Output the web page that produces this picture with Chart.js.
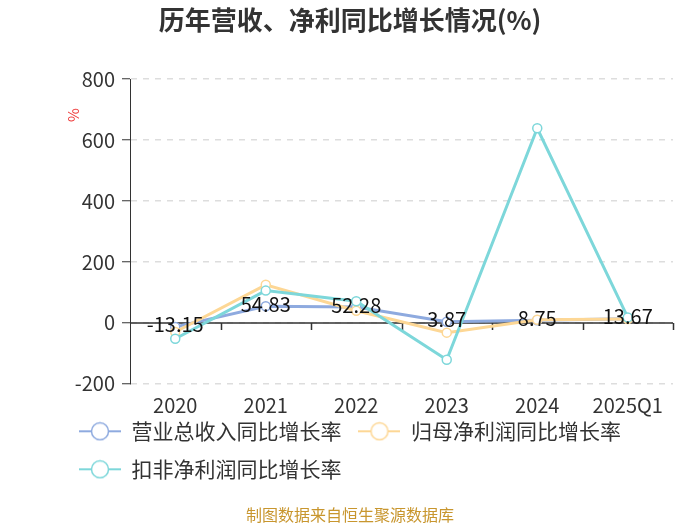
<!DOCTYPE html>
<html><head><meta charset="utf-8">
<script src="https://cdn.jsdelivr.net/npm/chart.js@4"></script>
<style>html,body{margin:0;padding:0;background:#fff}</style>
</head><body>
<canvas id="c" width="700" height="525" style="width:700px;height:525px;display:block"></canvas>
<script>
const categories = ['2020', '2021', '2022', '2023', '2024', '2025Q1'];
const revenueGrowth = [-13.15, 54.83, 52.28, 3.87, 8.75, 13.67];
const netProfitGrowth = [-30, 125, 40, -32, 10, 13];
const deductedProfitGrowth = [-52, 106, 71, -121, 639, 18];
const yTickValues = [800, 600, 400, 200, 0, -200];
const seriesNames = ['营业总收入同比增长率', '归母净利润同比增长率', '扣非净利润同比增长率'];
const seriesColors = ['#8eaadf', '#fdd795', '#7dd7da'];
const titleText = '历年营收、净利同比增长情况(%)';
const footerText = '制图数据来自恒生聚源数据库';
const unitText = '%';

const FONT = '"Noto Sans CJK SC", "Noto Sans", sans-serif';

function makeIcon(color) {
  const c = document.createElement('canvas');
  c.width = 42; c.height = 20;
  const g = c.getContext('2d');
  g.strokeStyle = color; g.lineWidth = 2;
  g.beginPath(); g.moveTo(0, 10); g.lineTo(42, 10); g.stroke();
  g.beginPath(); g.arc(21, 10, 8.5, 0, Math.PI * 2);
  g.fillStyle = '#fff'; g.fill();
  g.lineWidth = 1.5; g.stroke();
  return c;
}
const icons = seriesColors.map(makeIcon);

const zeroAxisPlugin = {
  id: 'zeroAxis',
  beforeDatasetsDraw(chart) {
    const {ctx, chartArea} = chart;
    const y = chart.scales.y.getPixelForValue(0);
    const n = categories.length;
    const w = (chartArea.right - chartArea.left) / n;
    ctx.save();
    ctx.strokeStyle = '#333';
    ctx.lineWidth = 1.5;
    ctx.beginPath();
    ctx.moveTo(chartArea.left, y);
    ctx.lineTo(chartArea.right, y);
    for (let i = 1; i <= n; i++) {
      const x = Math.round(chartArea.left + i * w) + 0.5;
      ctx.moveTo(x, y);
      ctx.lineTo(x, y + 7);
    }
    ctx.stroke();
    ctx.restore();
  }
};

const labelsPlugin = {
  id: 'valueLabels',
  afterDatasetsDraw(chart) {
    const {ctx} = chart;
    const meta = chart.getDatasetMeta(0);
    ctx.save();
    ctx.font = '20px ' + FONT;
    ctx.fillStyle = '#111';
    ctx.textAlign = 'center';
    ctx.textBaseline = 'middle';
    meta.data.forEach((pt, i) => {
      ctx.fillText(revenueGrowth[i].toFixed(2), pt.x, pt.y - 2);
    });
    ctx.restore();
  }
};

const unitPlugin = {
  id: 'unitLabel',
  afterDraw(chart) {
    const {ctx} = chart;
    ctx.save();
    ctx.translate(73, 115);
    ctx.rotate(-Math.PI / 2);
    ctx.font = '15px ' + FONT;
    ctx.fillStyle = '#ee3b3b';
    ctx.textAlign = 'center';
    ctx.textBaseline = 'middle';
    ctx.fillText(unitText, 0, 0);
    ctx.restore();
  }
};

// pull the legend block up under the axis labels; centre title/footer on the whole canvas
const layoutTweakPlugin = {
  id: 'layoutTweak',
  afterLayout(chart) {
    const l = chart.legend;
    if (l) { l.top -= 16; l.bottom -= 16; }
    chart.boxes.forEach(b => {
      if (b !== l && !b.axis && b.options && typeof b.options.text === 'string') {
        b.left = 0; b.right = 700; b.width = 700;
      }
    });
  }
};

const seriesData = [revenueGrowth, netProfitGrowth, deductedProfitGrowth];
const datasets = seriesData.map((d, i) => ({
  label: seriesNames[i],
  data: d,
  borderColor: seriesColors[i],
  backgroundColor: '#fff',
  pointBackgroundColor: '#fff',
  pointBorderColor: seriesColors[i],
  pointBorderWidth: 1.5,
  pointRadius: 4.5,
  pointHoverRadius: 4.5,
  borderWidth: 3,
  tension: 0,
  order: 3 - i
}));

new Chart(document.getElementById('c'), {
  type: 'line',
  data: { labels: categories, datasets },
  plugins: [zeroAxisPlugin, labelsPlugin, unitPlugin, layoutTweakPlugin],
  options: {
    responsive: false,
    animation: false,
    devicePixelRatio: 1,
    layout: { padding: { left: 62, right: 27, top: 0, bottom: 0 } },
    plugins: {
      tooltip: { enabled: false },
      title: {
        display: true,
        text: titleText,
        color: '#333',
        font: { family: FONT, size: 26, weight: 'bold' },
        padding: { top: 5, bottom: 43 }
      },
      subtitle: {
        display: true,
        position: 'bottom',
        text: footerText,
        color: '#c8962e',
        font: { family: FONT, size: 16 },
        padding: { top: 0, bottom: 0 }
      },
      legend: {
        position: 'bottom',
        align: 'start',
        labels: {
          usePointStyle: true,
          pointStyleWidth: 42,
          color: '#333',
          font: { family: FONT, size: 21 },
          padding: 17,
          generateLabels: (chart) => chart.data.datasets.map((ds, i) => ({
            text: ds.label,
            pointStyle: icons[i],
            fontColor: '#333',
            fillStyle: 'transparent',
            strokeStyle: 'transparent',
            lineWidth: 0,
            hidden: false,
            datasetIndex: i
          }))
        }
      }
    },
    scales: {
      x: {
        type: 'category',
        offset: true,
        grid: { display: false, drawTicks: false },
        border: { display: false },
        ticks: {
          color: '#333',
          font: { family: FONT, size: 20 },
          padding: 10,
          maxRotation: 0,
          autoSkip: false
        },
        afterFit(scale) { scale.height = 36; }
      },
      y: {
        min: -200,
        max: 800,
        afterBuildTicks(scale) { scale.ticks = yTickValues.map(v => ({ value: v })); },
        ticks: {
          color: '#333',
          font: { family: FONT, size: 20 },
          padding: 7
        },
        grid: {
          color: '#dddddd',
          lineWidth: 1.5,
          tickColor: '#333',
          tickLength: 8,
          tickWidth: 1
        },
        border: { display: true, color: '#333', width: 1, dash: [6, 6] },
        afterFit(scale) { scale.width = 68; }
      }
    }
  }
});
</script>
</body></html>
